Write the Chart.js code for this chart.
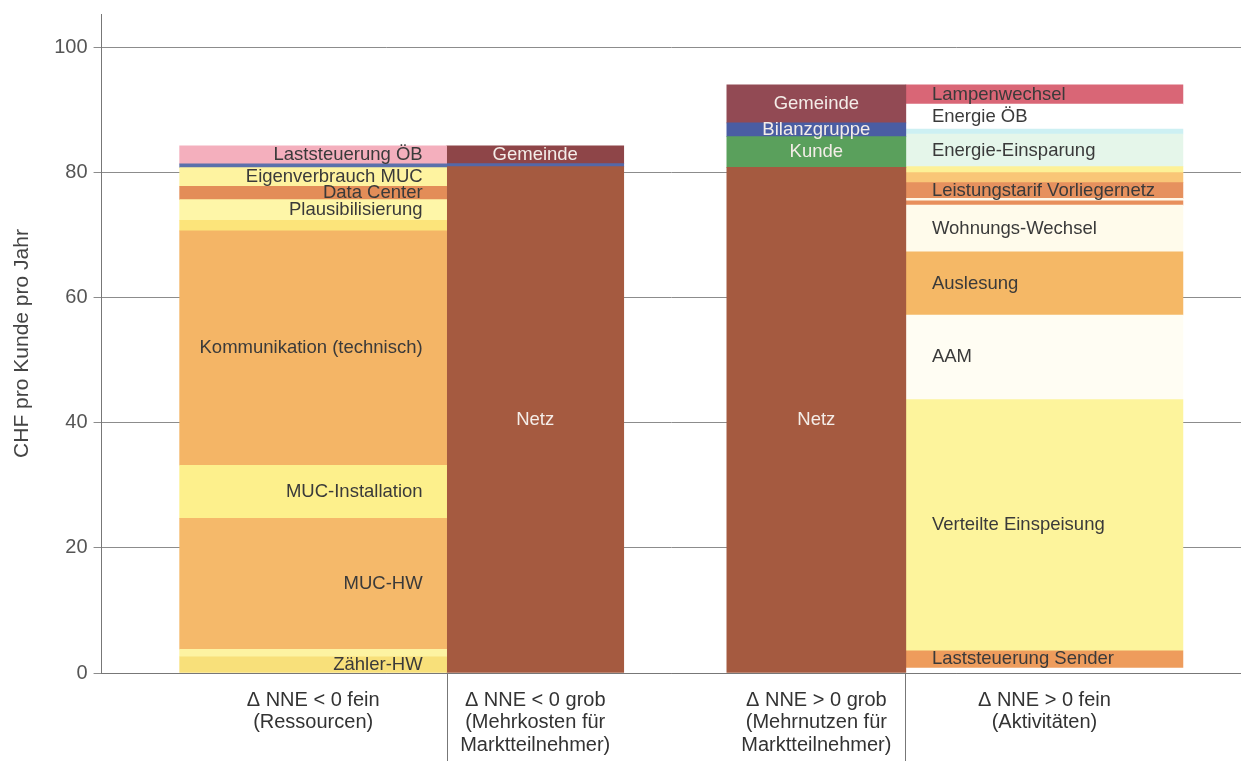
<!DOCTYPE html>
<html><head><meta charset="utf-8">
<script src="https://cdn.jsdelivr.net/npm/chart.js@4"></script>
<style>html,body{margin:0;padding:0;background:#fff}#wrap{width:1241px;height:761px}</style>
</head><body><div id="wrap"><canvas id="c" width="1241" height="761"></canvas></div>
<script>
// ---- categories (x tick labels) ----
const columnTitles = [
  ['Δ NNE < 0 fein', '(Ressourcen)'],
  ['Δ NNE < 0 grob', '(Mehrkosten für', 'Marktteilnehmer)'],
  ['Δ NNE > 0 grob', '(Mehrnutzen für', 'Marktteilnehmer)'],
  ['Δ NNE > 0 fein', '(Aktivitäten)']
];
// ---- y tick labels ----
const yTicks = [0, 20, 40, 60, 80, 100];

// ---- series: segments bottom -> top, CHF pro Kunde pro Jahr ----
const feinNegLabels = ['Zähler-HW', '', 'MUC-HW', 'MUC-Installation', 'Kommunikation (technisch)', '', 'Plausibilisierung', 'Data Center', 'Eigenverbrauch MUC', '', 'Laststeuerung ÖB'];
const feinNegValues = [2.6, 1.2, 20.9, 8.5, 37.45, 1.7, 3.3, 2.1, 3.0, 0.6, 2.9];

const grobNegLabels = ['Netz', '', 'Gemeinde'];
const grobNegValues = [80.9, 0.5, 2.85];

const grobPosLabels = ['Netz', 'Kunde', 'Bilanzgruppe', 'Gemeinde'];
const grobPosValues = [80.8, 4.9, 2.2, 6.1];

const feinPosLabels = ['', 'Laststeuerung Sender', 'Verteilte Einspeisung', 'AAM', 'Auslesung', 'Wohnungs-Wechsel', '', '', 'Leistungstarif Vorliegernetz', '', '', 'Energie-Einsparung', '', 'Energie ÖB', 'Lampenwechsel'];
const feinPosValues = [0.9, 2.65, 40.15, 13.5, 10.1, 7.45, 0.7, 0.4, 2.5, 1.6, 0.95, 5.2, 0.8, 4.0, 3.1];

// ---- styles ----
const feinNegColors = ['#f8e07a', '#fdf3a2', '#f5b96a', '#fdf08c', '#f4b566', '#fce47a', '#fef6a8', '#e38d58', '#fef3a0', '#5b70ab', '#f4afbd'];
const grobNegColors = ['#a55a40', '#5468a8', '#8e4548'];
const grobPosColors = ['#a55a40', '#5aa05c', '#4a5da3', '#924a54'];
const feinPosColors = ['rgba(0,0,0,0)', '#ee9c5c', '#fdf49c', '#fffdf3', '#f5b866', '#fffbeb', '#e88f5c', '#fff8e8', '#e6915e', '#f9c677', '#fdf197', '#e5f6ea', '#cdf0f3', '#ffffff', '#d96676'];
const labelColors = ['#3a3a3a', '#f4ede8', '#f4ede8', '#3a3a3a'];

// ---- layout (x scale units, bar widths in px) ----
const xCenters = [21.15, 43.35, 71.45, 94.25];
const separators = [34.5, 80.35];
const barWidthsPx = [267, 177, 179, 277];

const columns = [
  {labels: feinNegLabels, values: feinNegValues, colors: feinNegColors},
  {labels: grobNegLabels, values: grobNegValues, colors: grobNegColors},
  {labels: grobPosLabels, values: grobPosValues, colors: grobPosColors},
  {labels: feinPosLabels, values: feinPosValues, colors: feinPosColors}
];

const datasets = [];
columns.forEach((col, ci) => {
  col.values.forEach((v, si) => {
    datasets.push({
      label: col.labels[si] || ' ',
      data: [{x: xCenters[ci], y: v}],
      backgroundColor: col.colors[si],
      borderWidth: 0,
      barThickness: barWidthsPx[ci],
      col: ci,
      segLabel: col.labels[si]
    });
  });
});

const FONT = "'Liberation Sans', Arial, Helvetica, sans-serif";
Chart.defaults.font.family = FONT;

const segmentLabels = {
  id: 'segmentLabels',
  afterDatasetsDraw(chart) {
    const ctx = chart.ctx;
    ctx.save();
    ctx.font = '18.5px ' + FONT;
    ctx.textBaseline = 'middle';
    chart.data.datasets.forEach((ds, i) => {
      if (!ds.segLabel) return;
      const el = chart.getDatasetMeta(i).data[0];
      const p = el.getProps(['x', 'y', 'base', 'width'], true);
      const cy = (p.y + p.base) / 2;
      const c = ds.col;
      ctx.fillStyle = labelColors[c];
      if (c === 0) {
        ctx.textAlign = 'right';
        ctx.fillText(ds.segLabel, p.x + p.width / 2 - 24, cy);
      } else if (c === 3) {
        ctx.textAlign = 'left';
        ctx.fillText(ds.segLabel, p.x - p.width / 2 + 26, cy);
      } else {
        ctx.textAlign = 'center';
        ctx.fillText(ds.segLabel, p.x, cy);
      }
    });
    ctx.restore();
  }
};

// vertical separators between the category groups, below the x axis
const groupSeparators = {
  id: 'groupSeparators',
  afterDraw(chart) {
    const ctx = chart.ctx;
    const xs = chart.scales.x;
    ctx.save();
    ctx.strokeStyle = '#777';
    ctx.lineWidth = 1;
    separators.forEach(v => {
      const px = Math.round(xs.getPixelForValue(v)) + 0.5;
      ctx.beginPath();
      ctx.moveTo(px, chart.chartArea.bottom);
      ctx.lineTo(px, chart.height);
      ctx.stroke();
    });
    ctx.restore();
  }
};

new Chart(document.getElementById('c'), {
  type: 'bar',
  data: {datasets},
  plugins: [segmentLabels, groupSeparators],
  options: {
    responsive: false,
    animation: false,
    layout: {padding: {top: 10, left: 0, right: 0, bottom: 0}},
    plugins: {legend: {display: false}, tooltip: {enabled: false}},
    scales: {
      x: {
        type: 'linear', min: 0, max: 113.9, stacked: true, offset: false,
        afterBuildTicks: s => {
          s.ticks = xCenters.map(v => ({value: v}));
        },
        ticks: {
          autoSkip: false, maxRotation: 0, minRotation: 0, padding: 4.8,
          color: '#333', font: {size: 20, lineHeight: 1.12},
          callback: v => { const i = xCenters.indexOf(v); return i >= 0 ? columnTitles[i] : ''; }
        },
        grid: {
          offset: false, drawOnChartArea: false, drawTicks: true, tickLength: 11.2, lineWidth: 1,
          tickColor: 'rgba(0,0,0,0)', color: 'rgba(0,0,0,0)'
        },
        border: {display: true, color: '#777', width: 1}
      },
      y: {
        stacked: true, min: 0, max: 105.3,
        afterBuildTicks: s => { s.ticks = yTicks.map(v => ({value: v})); },
        ticks: {padding: 6, color: '#555', font: {size: 20, lineHeight: 0.8}},
        grid: {color: '#8c8c8c', lineWidth: 1, tickLength: 8, tickColor: '#8c8c8c'},
        border: {display: true, color: '#777', width: 1},
        title: {display: true, text: 'CHF pro Kunde pro Jahr', color: '#444', font: {size: 21}, padding: {top: 10, bottom: 13}}
      }
    }
  }
});
</script>
</body></html>
